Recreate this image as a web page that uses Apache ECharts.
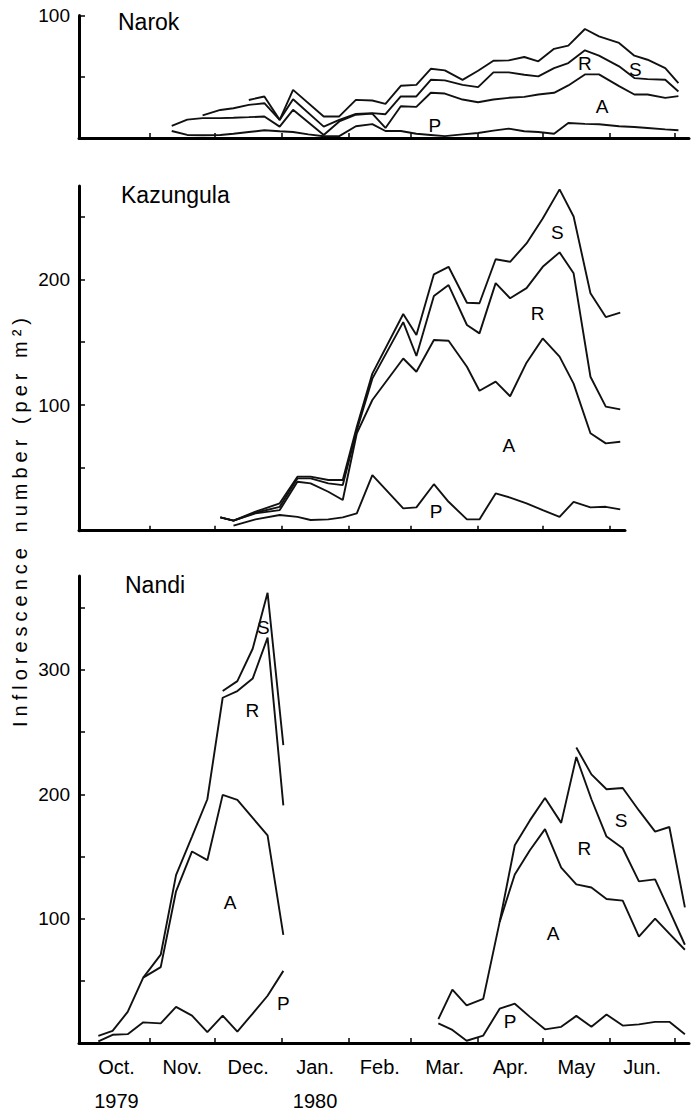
<!DOCTYPE html>
<html>
<head>
<meta charset="utf-8">
<style>
  html, body { margin: 0; padding: 0; background: #fff; }
  #chart { width: 691px; height: 1118px; }
</style>
<script src="https://cdn.jsdelivr.net/npm/echarts@6/dist/echarts.min.js"></script>
</head>
<body>
<div id="chart"></div>
<script>
// x values are days counted from 1 Oct 1979
const monthNames = ["Oct.", "Nov.", "Dec.", "Jan.", "Feb.", "Mar.", "Apr.", "May", "Jun."];
const monthStarts = [0, 31, 61, 92, 123, 152, 183, 213, 244, 274];
const yearLabels = { "Oct.": "1979", "Jan.": "1980" };

// Narok (lines are cumulative: P, P+A, P+A+R, total S)
const narokDays = [41.1, 48.3, 55.4, 63.6, 69.7, 76.8, 84.0, 91.1, 97.3, 104.4, 111.5, 118.7, 126.4, 134.0, 140.1, 147.2, 154.4, 161.1, 167.6, 175.8, 183.0, 190.1, 197.2, 204.4, 210.9, 218.2, 224.8, 232.5, 239.0, 248.3, 255.4, 261.5, 269.7, 275.8];
const narokS = [null, null, null, null, null, 31, 33.9, 14.8, 39.3, null, 17.6, 17.6, 31.1, 30.6, 27.9, 42.6, 43.4, 56.5, 55.2, 47.5, 54.9, 63.1, 63.4, 66.1, 62.6, 72.8, 75.4, 89, 83, 77.6, 67.2, 63.9, 57.1, 44.8];
const narokR = [null, null, 18.5, 22.9, 24.3, 27, 28.4, 14.8, 31.7, null, 9.3, 14.8, 19.7, 20.3, 19.4, 33.9, 33.9, 47.5, 47, 43.4, 41.5, 53.6, 53.6, 51.6, 50.3, 57.1, 61.2, 71.6, 67.2, 58.5, 48.9, 48.1, 47.5, 37.9];
const narokA = [9.9, 15, 16.2, 16.2, 16.5, 17, 17.6, 9.3, 23, null, 2.5, 13.5, 19, 19.9, 8.2, 25.9, 25.4, 36.9, 36.3, 31.4, 29.2, 31.4, 32.8, 33.6, 35.5, 36.9, 42.9, 51.9, 51.9, 42.3, 35.5, 35.5, 32.8, 34.2];
const narokP = [5.7, 2.5, 2.2, 2.5, 3.5, 4.9, 6.3, 5.5, 4.9, 3, 1.4, 1.5, 9.6, 11.3, 5.7, 5.7, 3.5, 2.5, 1.5, 3, 4.1, 6, 7.7, 5.5, 4.9, 3.5, 12.3, 11.5, 11.2, 9.6, 9, 8.2, 7, 6.3];
const narokTags = [["R", 232.5, 60.6], ["S", 255.9, 56.3], ["A", 240.4, 25.7], ["P", 163, 9.8]];

// Kazungula
const kazDays = [63.6, 69.7, 79.9, 91.1, 99.3, 105.4, 113.6, 120.3, 126.8, 134.0, 148.3, 154.4, 162.5, 169.3, 177.8, 183.6, 191.1, 197.8, 205.4, 212.9, 220.7, 227.2, 235.0, 242.1, 248.8];
const kazS = [10.6, 8, 15.1, 21.8, 43, 43, 40.3, 40.3, 82.8, 125, 172.4, 155.7, 204, 210, 181.4, 181, 216, 214, 228.6, 248.5, 271.6, 250, 189, 170, 173.5];
const kazR = [10.6, 8, 14.3, 19, 41.6, 41.6, 37.7, 36.3, 80, 121, 166, 139, 186.7, 195.5, 163.7, 157, 197, 185, 193, 210, 221.5, 204.8, 122.5, 98.7, 96.5];
const kazA = [10.6, 8, 13.8, 16.4, 39, 37.7, 31, 24.4, 77.5, 104, 137, 126.5, 151.7, 151.2, 130.5, 111.4, 118.6, 107, 133.7, 153, 138.5, 117, 77.5, 69.5, 70.8];
const kazP = [null, 4, 9, 12.5, 11, 8.5, 9, 10.6, 13.8, 44.3, 17.8, 18.6, 37, 23, 9, 9, 29.7, 26.3, 21.8, 16.4, 11, 23, 18.6, 19, 17];
const kazTags = [["S", 219.7, 237], ["R", 210.5, 173], ["A", 197.2, 68], ["P", 163.5, 15]];

// Nandi, two sampling periods
const nandiDecDays = [7.1, 13.7, 20.7, 27.9, 36.0, 43.1, 50.5, 57.6, 64.7, 71.5, 78.6, 85.5, 92.8];
const nandiDecS = [null, null, null, null, null, null, null, null, 283, 291, 317, 362, 239.5];
const nandiDecR = [null, null, null, 52.6, 71, 135, 166, 196, 277.6, 283, 293, 326, 191];
const nandiDecA = [5.8, 9.7, 25, 52.6, 61, 122, 154, 147, 199.5, 195.5, 181, 167, 87];
const nandiDecP = [1.3, 6.6, 7.1, 16.6, 15.8, 29, 22, 8.7, 22, 9.2, 23.7, 38, 58];

const nandiAprDays = [164.6, 171.1, 177.7, 185.4, 193.0, 200.0, 207.0, 214.0, 221.5, 228.5, 235.5, 242.5, 250.0, 257.5, 265.0, 271.6, 278.8];
const nandiAprS = [null, null, null, null, null, null, null, null, null, 237.6, 216, 204, 205, 187, 170, 173.7, 109];
const nandiAprR = [null, null, null, null, 97.4, 159, 179, 197, 177, 230, 196, 166, 156.6, 130, 131.6, 106.6, 79];
const nandiAprA = [19.2, 42.9, 30.3, 35.5, 97.4, 135.5, 155, 172, 141, 127.6, 125, 115.8, 114.5, 85.5, 100, 88, 75];
const nandiAprP = [15.8, 10.5, 1.8, 6, 27.6, 31.6, 21, 11, 13, 21.8, 13, 22.9, 14, 15, 17, 17, 7];
const nandiTags = [["S", 83.5, 334], ["R", 78.4, 267], ["A", 68.1, 113], ["P", 92.8, 31.6],
                   ["S", 249.2, 179], ["R", 232.2, 156.6], ["A", 217.8, 88], ["P", 197.8, 17]];

const FONT = '"Liberation Sans", Arial, sans-serif';

const monthTicks = monthStarts.slice(1);
const monthMids = monthNames.map((m, i) => (monthStarts[i] + monthStarts[i + 1]) / 2);

function pts(days, vals) {
  return days.map((d, i) => [d, vals[i]]).filter(p => p[1] != null);
}

function line(days, vals, idx) {
  return {
    type: "line",
    xAxisIndex: idx,
    yAxisIndex: idx,
    data: pts(days, vals),
    symbol: "none",
    silent: true,
    lineStyle: { color: "#111", width: 1.9 }
  };
}

function tags(list, idx) {
  return {
    type: "scatter",
    xAxisIndex: idx,
    yAxisIndex: idx,
    symbolSize: 0,
    silent: true,
    itemStyle: { opacity: 1 },
    data: list.map(t => [t[1], t[2], t[0]]),
    label: {
      show: true,
      position: "inside",
      formatter: p => p.data[2],
      fontSize: 19,
      fontFamily: FONT,
      color: "#000",
      opacity: 1
    }
  };
}

function xAxis(idx, max, withLabels) {
  return {
    type: "value",
    gridIndex: idx,
    min: -1.85,
    max: max,
    axisLine: { onZero: false, lineStyle: { color: "#000", width: 3 } },
    axisTick: {
      show: true,
      inside: true,
      length: 5,
      customValues: monthTicks.filter(v => v < max),
      lineStyle: { color: "#000", width: 1.5 }
    },
    axisLabel: withLabels ? {
      customValues: monthMids,
      margin: 7,
      fontSize: 20,
      lineHeight: 34,
      fontFamily: FONT,
      color: "#000",
      formatter: function (v) {
        const i = monthMids.findIndex(m => Math.abs(m - v) < 0.01);
        if (i < 0) return "";
        const name = monthNames[i];
        return yearLabels[name] ? name + "\n{yr|" + yearLabels[name] + "}" : name;
      },
      rich: { yr: { fontSize: 20, lineHeight: 34, fontFamily: FONT, color: "#000" } }
    } : { show: false },
    splitLine: { show: false }
  };
}

function yAxis(idx, max, ticks, labels) {
  return {
    type: "value",
    gridIndex: idx,
    min: 0,
    max: max,
    axisLine: { show: true, onZero: false, lineStyle: { color: "#000", width: 3 } },
    axisTick: {
      show: true,
      inside: true,
      length: 6,
      customValues: ticks,
      lineStyle: { color: "#000", width: 1.5 }
    },
    axisLabel: {
      customValues: labels,
      margin: 9,
      fontSize: 19,
      fontFamily: FONT,
      color: "#000"
    },
    splitLine: { show: false }
  };
}

const chart = echarts.init(document.getElementById("chart"), null, { renderer: "svg" });

chart.setOption({
  animation: false,
  backgroundColor: "#fff",
  grid: [
    { left: 79, right: 2, top: 15.5, height: 122.5 },
    { left: 79, right: 66, top: 186, height: 344.7 },
    { left: 79, right: 2, top: 576, height: 475.7 }
  ],
  xAxis: [
    xAxis(0, 280.7, false),
    xAxis(1, 251.0, false),
    xAxis(2, 280.7, true)
  ],
  yAxis: [
    yAxis(0, 100, [50, 100], [100]),
    yAxis(1, 274.3, [50, 100, 150, 200, 250], [100, 200]),
    yAxis(2, 375.5, [50, 100, 150, 200, 250, 300, 350], [100, 200, 300])
  ],
  graphic: [
    { type: "text", x: 118, y: 22, style: { text: "Narok", fontSize: 23, fontFamily: FONT, fill: "#000", align: "left", verticalAlign: "middle" } },
    { type: "text", x: 121, y: 195, style: { text: "Kazungula", fontSize: 23, fontFamily: FONT, fill: "#000", align: "left", verticalAlign: "middle" } },
    { type: "text", x: 125, y: 585, style: { text: "Nandi", fontSize: 23, fontFamily: FONT, fill: "#000", align: "left", verticalAlign: "middle" } },
    { type: "text", x: 20, y: 520, rotation: Math.PI / 2, style: { text: "Inflorescence number (per m²)", fontSize: 20, fontFamily: FONT, fill: "#000", align: "center", verticalAlign: "middle" } }
  ],
  series: [
    line(narokDays, narokS, 0),
    line(narokDays, narokR, 0),
    line(narokDays, narokA, 0),
    line(narokDays, narokP, 0),
    tags(narokTags, 0),

    line(kazDays, kazS, 1),
    line(kazDays, kazR, 1),
    line(kazDays, kazA, 1),
    line(kazDays, kazP, 1),
    tags(kazTags, 1),

    line(nandiDecDays, nandiDecS, 2),
    line(nandiDecDays, nandiDecR, 2),
    line(nandiDecDays, nandiDecA, 2),
    line(nandiDecDays, nandiDecP, 2),
    line(nandiAprDays, nandiAprS, 2),
    line(nandiAprDays, nandiAprR, 2),
    line(nandiAprDays, nandiAprA, 2),
    line(nandiAprDays, nandiAprP, 2),
    tags(nandiTags, 2)
  ]
});

// the axis title in the original is letter-spaced
function spaceTitle() {
  document.querySelectorAll("#chart text").forEach(t => {
    if (t.textContent.indexOf("Inflorescence") === 0) t.setAttribute("letter-spacing", "5");
  });
}
chart.on("finished", spaceTitle);
setTimeout(spaceTitle, 50);
</script>
</body>
</html>
